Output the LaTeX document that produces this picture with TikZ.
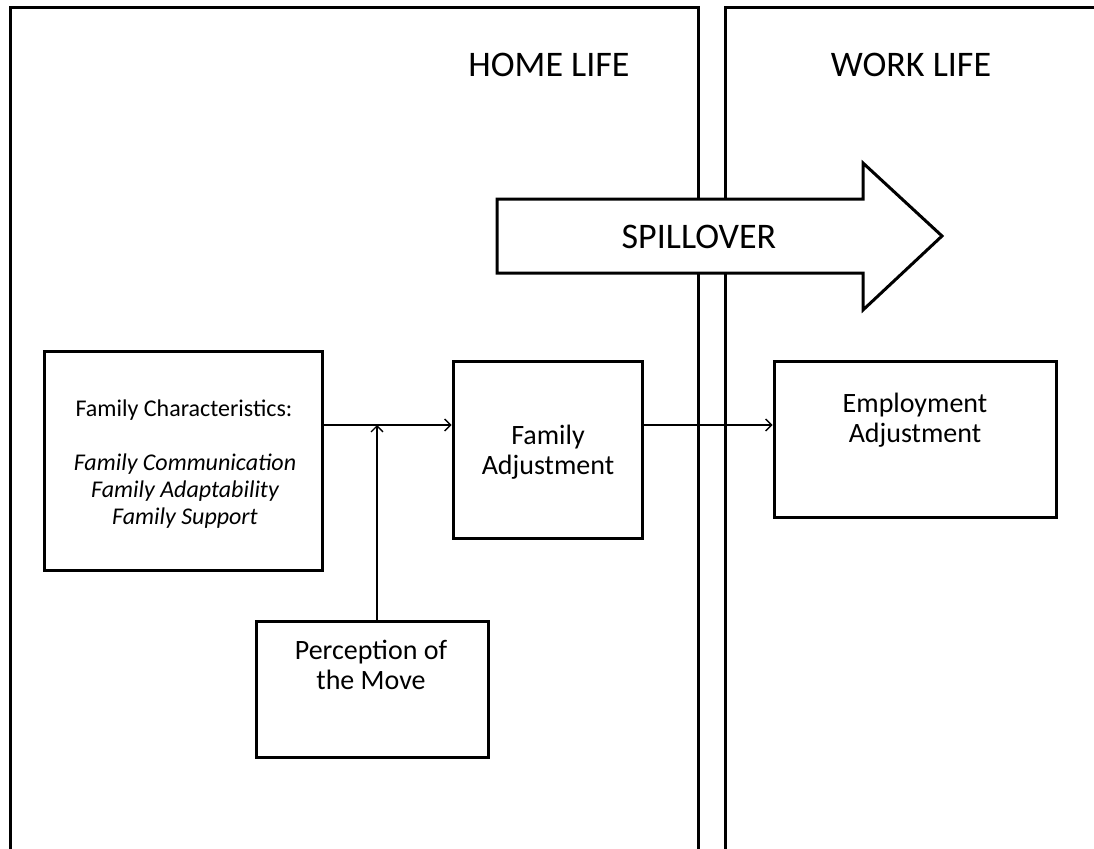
\documentclass[tikz,border=0pt]{standalone}
\usepackage{fontspec}
\setmainfont{Carlito}
\usetikzlibrary{arrows.meta}
\begin{document}
\begin{tikzpicture}[x=1pt,y=-1pt,
  frame/.style={draw=black,line width=3pt},
  box/.style={draw=black,line width=3pt,fill=white,rectangle,inner sep=0pt},
  conn/.style={draw=black,line width=1.3pt,-{Straight Barb[length=6pt,width=12pt,line width=1.3pt]}},
  title/.style={font=\fontsize{36}{40}\selectfont,inner sep=0pt},
  txt/.style={font=\fontsize{28}{30}\selectfont,align=center,inner sep=0pt},
  small/.style={font=\fontsize{24}{27}\selectfont,align=center,inner sep=0pt}]
\clip (0,0) rectangle (1094,848);
\fill[white] (0,0) rectangle (1094,848);
% panels
\draw[frame] (10,870) -- (10,8) -- (698,8) -- (698,870);
\draw[frame] (725,870) -- (725,8) -- (1120,8);
\node[title] (home) at (549,65) {HOME LIFE};
\node[title] (work) at (911,65) {WORK LIFE};
% spillover arrow
\draw[line width=3pt,fill=white,line join=miter]
  (497,199) -- (863,199) -- (863,163) -- (942,236) -- (863,310) -- (863,273) -- (497,273) -- cycle;
\node[title] (spill) at (699,237) {SPILLOVER};
% boxes
\node[box,minimum width=278pt,minimum height=219pt] (fc) at (183,460.5) {};
\node[box,minimum width=189pt,minimum height=177pt] (fa) at (547.5,449.5) {};
\node[box,minimum width=282pt,minimum height=156pt] (ea) at (915,439) {};
\node[box,minimum width=232pt,minimum height=136pt] (pm) at (372,689) {};
% texts
\node[small] (fct) at (184,410) {Family Characteristics:};
\node[small,anchor=north] (fci) at (185,454) {\itshape Family Communication\\\itshape Family Adaptability\\\itshape Family Support};
\node[txt,anchor=north] (fat) at (548,425) {Family\\Adjustment};
\node[txt,anchor=north] (eat) at (915,393) {Employment\\Adjustment};
\node[txt,anchor=north] (pmt) at (371,640) {Perception of\\the Move};
% connectors
\coordinate (lvl) at (0,425);
\coordinate (j) at (377,425);
\draw[conn] (fc.east |- lvl) -- (fa.west |- lvl);
\draw[conn] (j |- pm.north) -- (j);
\draw[conn] (fa.east |- lvl) -- (ea.west |- lvl);
\end{tikzpicture}
\end{document}
